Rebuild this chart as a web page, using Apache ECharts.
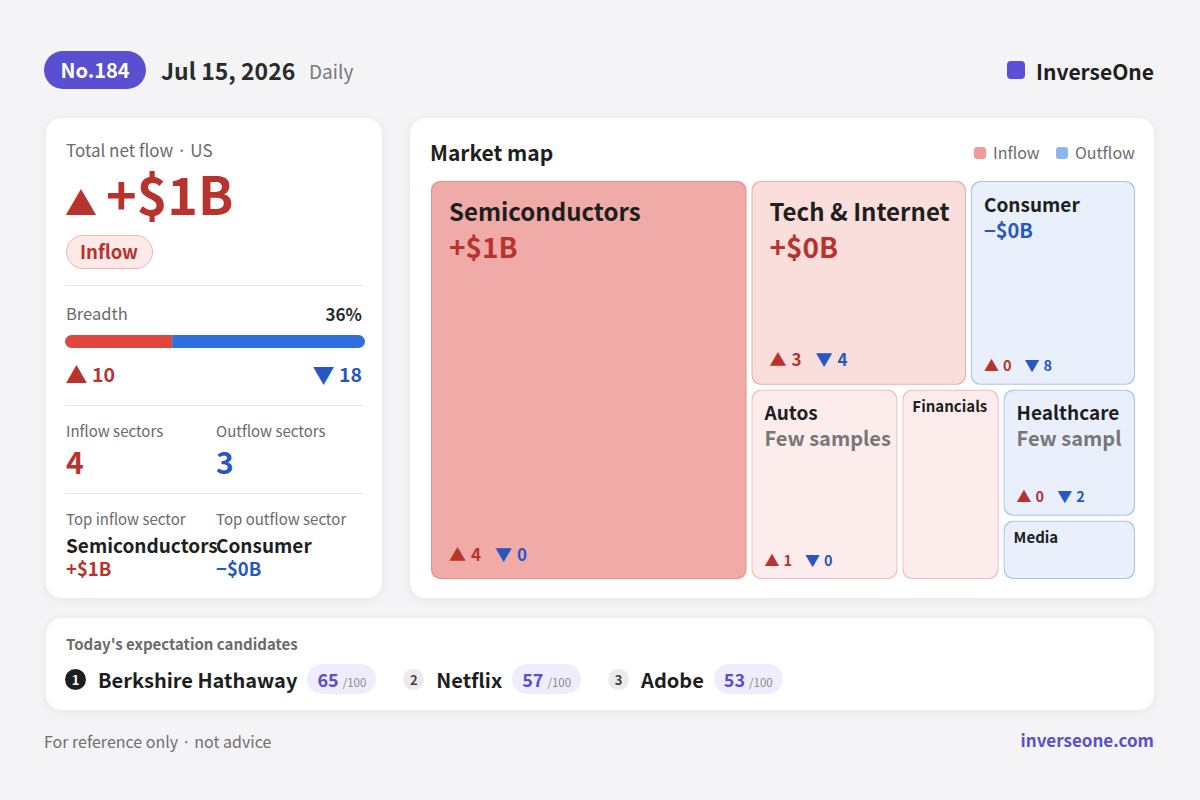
<!DOCTYPE html>
<html>
<head>
<meta charset="utf-8">
<script src="https://cdn.jsdelivr.net/npm/echarts@6/dist/echarts.min.js"></script>
<style>
html,body{margin:0;padding:0;}
body{width:1200px;height:800px;background:#f4f4f7;position:relative;overflow:hidden;font-family:"Noto Sans CJK JP","Noto Sans",sans-serif;}
.card{position:absolute;background:#fff;border-radius:16px;border:1px solid #ececf0;box-sizing:border-box;box-shadow:0 2px 10px rgba(30,30,60,0.05);}
.t{position:absolute;line-height:0;white-space:nowrap;transform:translateY(-0.07em);z-index:3;}
.sq{position:absolute;}
#cands{position:absolute;left:65px;top:664px;height:30px;display:flex;align-items:center;z-index:3;}
.num{width:21px;height:21px;border-radius:50%;display:flex;align-items:center;justify-content:center;font-size:13px;font-weight:700;margin-right:12px;}
.cname{font-size:20px;font-weight:700;color:#1e1e1e;margin-right:10px;}
.score{height:30px;border-radius:15px;background:#efedfc;padding:0 10px;display:flex;align-items:baseline;justify-content:center;box-sizing:border-box;line-height:30px;margin-right:27px;}
.score b{font-size:18px;color:#5a4fcf;font-weight:700;}
.score span{font-size:11.5px;color:#8a8a8a;margin-left:4px;}
</style>
</head>
<body>
<div class="sq" style="left:44px;top:51px;width:102px;height:38px;border-radius:19px;background:#5a4fd0;"></div>
<div class="sq" style="left:1007px;top:61px;width:18px;height:18px;border-radius:4px;background:#5a4fd6;"></div>

<div class="card" style="left:45px;top:117px;width:338px;height:482px;"></div>
<div class="card" style="left:409px;top:117px;width:746px;height:482px;"></div>
<div class="card" style="left:45px;top:617px;width:1110px;height:94px;"></div>

<div class="sq" style="left:65.5px;top:234.5px;width:87px;height:34px;border-radius:17px;background:#fde9e8;border:1px solid #f3b4b0;box-sizing:border-box;"></div>
<div class="sq" style="left:65px;top:285px;width:298px;height:1px;background:#e6e6ea;"></div>
<div class="sq" style="left:65px;top:405px;width:298px;height:1px;background:#e6e6ea;"></div>
<div class="sq" style="left:65px;top:493px;width:298px;height:1px;background:#e6e6ea;"></div>

<div class="sq" style="left:974px;top:147px;width:12px;height:12px;border-radius:3px;background:#ef9c98;"></div>
<div class="sq" style="left:1056px;top:147px;width:12px;height:12px;border-radius:3px;background:#8fb4f0;"></div>

<div id="cands"></div>
<div id="chart" style="position:absolute;left:0;top:0;width:1200px;height:800px;z-index:2;"></div>

<script>
// ---------- data ----------
const issueNo = 184;
const dateLabel = 'Jul 15, 2026';
const periodLabel = 'Daily';
const marketLabel = 'US';
const brandName = 'InverseOne';
const siteName = 'inverseone.com';
const totalFlowB = 1.2;
const breadthUp = 10;
const breadthDown = 18;

const sectors     = ['Semiconductors', 'Tech & Internet', 'Consumer', 'Autos', 'Financials', 'Healthcare', 'Media'];
const sectorSize  = [128800, 45700, 35200, 29200, 19600, 17800, 8600];
const sectorFlowB = [1.2, 0.4, -0.3, 0.1, 0.05, -0.1, -0.05];
const sectorUp    = [4, 3, 0, 1, null, 0, null];
const sectorDown  = [0, 4, 8, 0, null, 2, null];
const sectorFew   = [false, false, false, true, false, true, false];

const candidateNames  = ['Berkshire Hathaway', 'Netflix', 'Adobe'];
const candidateScores = [65, 57, 53];
const scoreMax = 100;

// ---------- styles ----------
const F = '"Noto Sans CJK JP","Noto Sans",sans-serif';
const RED = '#b8322e', BLUE = '#2757c4', INK = '#1e1e1e', GREY = '#6b6b6b', PURPLE = '#5a4fcf';

function fmtB(v){ return (v < 0 ? '\u2212' : '+') + '$' + Math.round(Math.abs(v)) + 'B'; }

function T(txt, x, cy, size, weight, color, align, extra){
  const d = document.createElement('div');
  d.className = 't';
  d.textContent = txt;
  let pos = 'left:' + x + 'px;';
  if (align === 'right') pos = 'right:' + (1200 - x) + 'px;';
  if (align === 'center') pos = 'left:' + x + 'px;transform:translate(-50%,-0.07em);';
  d.style.cssText = pos + 'top:' + cy + 'px;font-size:' + size + 'px;font-weight:' + weight + ';color:' + color + ';' + (extra || '');
  document.body.appendChild(d);
  return d;
}

// header
T('No.' + issueNo, 95, 71, 20, 700, '#fff', 'center');
T(dateLabel, 161, 72, 23, 700, '#2b2b2b');
T(periodLabel, 309, 72, 19, 400, '#777');
T(brandName, 1154, 72, 21, 700, INK, 'right');

// left card
const inflowCount = sectorFlowB.filter(v => v > 0).length;
const outflowCount = sectorFlowB.filter(v => v < 0).length;
let topIn = 0, topOut = 0;
sectorFlowB.forEach((v, i) => { if (v > sectorFlowB[topIn]) topIn = i; if (v < sectorFlowB[topOut]) topOut = i; });

T('Total net flow \u00b7 ' + marketLabel, 66, 151, 17, 400, GREY);
T(totalFlowB >= 0 ? '\u25b2' : '\u25bc', 65, 203, 32, 400, RED);
T(fmtB(totalFlowB), 106, 197, 52, 700, RED);
T(totalFlowB >= 0 ? 'Inflow' : 'Outflow', 109, 252, 18.5, 700, RED, 'center');
T('Breadth', 66, 314, 16.5, 400, GREY);
T(Math.round(breadthUp / (breadthUp + breadthDown) * 100) + '%', 362, 315, 17, 700, '#2b2b2b', 'right');
T('\u25b2', 65.5, 375, 22, 400, RED);
T(String(breadthUp), 92, 375, 19.5, 700, RED);
T('\u25bc', 312.5, 375, 22, 400, BLUE);
T(String(breadthDown), 362, 375, 19.5, 700, BLUE, 'right');
T('Inflow sectors', 66, 432, 15, 400, GREY);
T('Outflow sectors', 216, 432, 15, 400, GREY);
T(String(inflowCount), 66, 463, 30, 700, RED);
T(String(outflowCount), 216, 463, 30, 700, BLUE);
T('Top inflow sector', 66, 520, 15, 400, GREY);
T('Top outflow sector', 216, 520, 15, 400, GREY);
T(sectors[topIn], 66, 546, 19, 700, INK);
T(sectors[topOut], 216, 546, 19, 700, INK);
T(fmtB(sectorFlowB[topIn]), 66, 569, 18.5, 700, RED);
T(fmtB(sectorFlowB[topOut]), 216, 569, 18.5, 700, BLUE);

// right card header
T('Market map', 430, 153, 21, 700, INK);
T('Inflow', 993, 153, 16, 400, GREY);
T('Outflow', 1075, 153, 16, 400, GREY);

// bottom card
T("Today's expectation candidates", 66, 645, 15, 700, GREY);
const cands = document.getElementById('cands');
candidateNames.forEach((n, i) => {
  const c = document.createElement('div'); c.className = 'num'; c.textContent = String(i + 1);
  c.style.background = i === 0 ? '#1e1e1e' : '#ebebeb'; c.style.color = i === 0 ? '#fff' : '#444';
  const nm = document.createElement('div'); nm.className = 'cname'; nm.textContent = n;
  const sc = document.createElement('div'); sc.className = 'score';
  const b = document.createElement('b'); b.textContent = String(candidateScores[i]);
  const s = document.createElement('span'); s.textContent = '/' + scoreMax;
  sc.appendChild(b); sc.appendChild(s);
  cands.appendChild(c); cands.appendChild(nm); cands.appendChild(sc);
});

// footer
T('For reference only \u00b7 not advice', 44, 742, 16, 400, '#6f6f6f');
T(siteName, 1154, 741, 17, 700, PURPLE, 'right');

// ---------- ECharts ----------
const maxAbs = Math.max.apply(null, sectorFlowB.map(Math.abs));
function tone(i){
  const r = sectorFlowB[i] / maxAbs;
  if (r > 0.6) return ['#f0aaa7', '#e8918d'];
  if (r > 0.3) return ['#f9dedc', '#f1aca8'];
  if (r > 0) return ['#fcecec', '#f5bdba'];
  return ['#e9f0fc', '#a9c5f4'];
}

const chart = echarts.init(document.getElementById('chart'), null, {renderer: 'svg'});

function treemapData(tiles){
  return sectors.map((s, i) => {
    const tn = tone(i);
    const item = {name: s, value: sectorSize[i],
      itemStyle: {color: tn[0], borderColor: tn[1], borderWidth: 1, borderRadius: 9}};
    if (tiles) {
      const t = tiles[s];
      const flowColor = sectorFlowB[i] >= 0 ? RED : BLUE;
      if (t.tier === 'L') {
        item.label = {show: true, position: 'insideTopLeft', distance: 0, padding: [11, 0, 0, 17], overflow: 'truncate', ellipsis: '',
          formatter: '{n|' + s + '}\n' + (sectorFew[i] ? '{f|Few samples}' : '{v|' + fmtB(sectorFlowB[i]) + '}'),
          rich: {n: {fontSize: 24, fontWeight: 'bold', color: INK, lineHeight: 34, fontFamily: F},
                 v: {fontSize: 28, fontWeight: 'bold', color: flowColor, lineHeight: 38, fontFamily: F},
                 f: {fontSize: 24, fontWeight: 'bold', color: '#777', lineHeight: 38, fontFamily: F}}};
      } else if (t.tier === 'M') {
        item.label = {show: true, position: 'insideTopLeft', distance: 0, padding: [8, 0, 0, 12], overflow: 'truncate', ellipsis: '',
          formatter: '{n|' + s + '}\n' + (sectorFew[i] ? '{f|Few samples}' : '{v|' + fmtB(sectorFlowB[i]) + '}'),
          rich: {n: {fontSize: 19, fontWeight: 'bold', color: INK, lineHeight: 26, fontFamily: F},
                 v: {fontSize: 20, fontWeight: 'bold', color: flowColor, lineHeight: 26, fontFamily: F},
                 f: {fontSize: 20, fontWeight: 'bold', color: '#777', lineHeight: 26, fontFamily: F}}};
      } else {
        item.label = {show: true, position: 'insideTopLeft', distance: 0, padding: [5, 0, 0, 9], overflow: 'truncate', ellipsis: '',
          formatter: '{n|' + s + '}',
          rich: {n: {fontSize: 15, fontWeight: 'bold', color: INK, lineHeight: 20, fontFamily: F}}};
      }
    }
    return item;
  });
}

const option = {
  animation: false,
  textStyle: {fontFamily: F},
  grid: {left: 65, top: 335, width: 300, height: 13},
  xAxis: {type: 'value', min: 0, max: breadthUp + breadthDown, show: false},
  yAxis: {type: 'category', data: ['Breadth'], show: false},
  series: [
    {id: 'up', type: 'bar', stack: 'b', data: [breadthUp], barWidth: 13, silent: true,
     itemStyle: {color: '#e0453e', borderRadius: [6.5, 0, 0, 6.5]}},
    {id: 'down', type: 'bar', stack: 'b', data: [breadthDown], barWidth: 13, silent: true,
     itemStyle: {color: '#2f6fdd', borderRadius: [0, 6.5, 6.5, 0]}},
    {id: 'tm', type: 'treemap', left: 431, top: 181, width: 704, height: 398,
     squareRatio: 1, roam: false, nodeClick: false, silent: true,
     breadcrumb: {show: false}, animation: false,
     levels: [{itemStyle: {borderWidth: 0, gapWidth: 5}}],
     label: {show: false}, upperLabel: {show: false},
     data: treemapData(null)}
  ]
};
chart.setOption(option);

// read the tile layout computed by the treemap, then place labels & counts
let tiles = null;
try {
  const sm = chart.getModel().getSeriesByIndex(2);
  const info = sm.layoutInfo;
  const root = sm.getData().tree.root;
  const rl = root.getLayout() || {x: 0, y: 0};
  tiles = {};
  root.children.forEach(n => {
    const l = n.getLayout();
    const t = {x: info.x + rl.x + l.x, y: info.y + rl.y + l.y, w: l.width, h: l.height};
    t.tier = Math.min(t.w, t.h) >= 190 ? 'L' : (t.w >= 120 && t.h >= 100 ? 'M' : 'S');
    tiles[n.name] = t;
  });
} catch (e) { tiles = null; }

if (tiles) {
  const graphics = [];
  sectors.forEach((s, i) => {
    const t = tiles[s];
    if (t.tier === 'S' || sectorUp[i] == null) return;
    const L = t.tier === 'L';
    const ts = L ? 17 : 15, ds = L ? 17 : 14.5;
    graphics.push({type: 'text', silent: true, z: 100,
      x: t.x + (L ? 18 : 13), y: t.y + t.h - (L ? 26 : 20),
      style: {text: '{tu|\u25b2}{nu|' + sectorUp[i] + '}{td|\u25bc}{nd|' + sectorDown[i] + '}',
        verticalAlign: 'middle', align: 'left', fontFamily: F, fill: RED,
        rich: {tu: {fontSize: ts, fill: RED, fontFamily: F, padding: [0, L ? 5 : 4, 0, 0]},
               nu: {fontSize: ds, fontWeight: 'bold', fill: RED, fontFamily: F, padding: [0, L ? 14 : 13, 0, 0]},
               td: {fontSize: ts, fill: BLUE, fontFamily: F, padding: [0, L ? 5 : 4, 0, 0]},
               nd: {fontSize: ds, fontWeight: 'bold', fill: BLUE, fontFamily: F}}}});
  });
  chart.setOption({series: [{id: 'tm', data: treemapData(tiles)}], graphic: graphics});
}
</script>
</body>
</html>
